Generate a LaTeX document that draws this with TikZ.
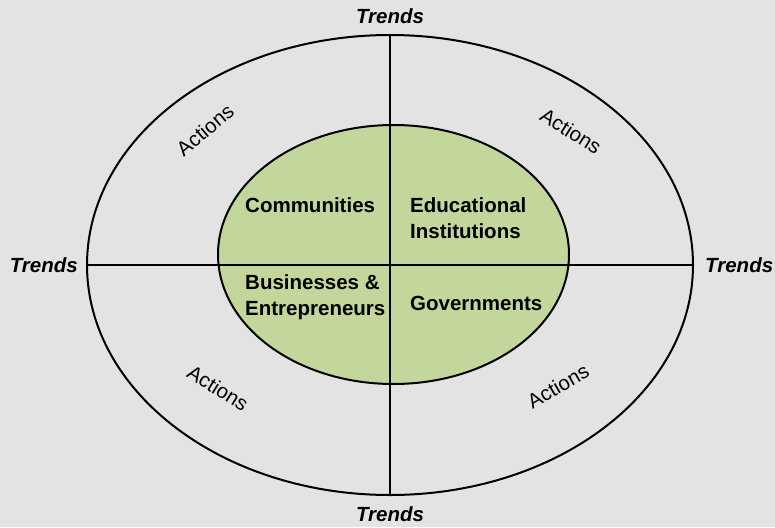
\documentclass[tikz,border=0pt]{standalone}
\usepackage{fontspec}
\setmainfont{Liberation Sans}
\usetikzlibrary{shapes.geometric,positioning}
\definecolor{bgGray}{HTML}{E3E3E3}
\definecolor{sectorGreen}{HTML}{C3D69B}

\begin{document}
\begin{tikzpicture}[x=1pt,y=-1pt,
  trend/.style={font=\fontsize{20.5}{24}\selectfont\bfseries\itshape,inner sep=0pt},
  action/.style={font=\fontsize{20.5}{24}\selectfont},
  sector/.style={font=\fontsize{20.5}{25.5}\selectfont\bfseries,align=left,anchor=west,inner sep=0pt}]
  \fill[bgGray] (0,0) rectangle (775,527);
  \useasboundingbox (0,0) rectangle (775,527);
  \node[draw,line width=2pt,ellipse,inner sep=0pt,minimum width=606pt,minimum height=460pt] (outer) at (390,265) {};
  \node[draw,line width=2pt,ellipse,inner sep=0pt,fill=sectorGreen,minimum width=351pt,minimum height=259pt] (inner) at (393.5,254.5) {};
  \draw[line width=2.5pt] (outer.north) -- (outer.south);
  \draw[line width=2.5pt] (outer.west) -- (outer.east);
  \node[trend,above=10pt of outer.north] (trendN) {Trends};
  \node[trend,below=10pt of outer.south] (trendS) {Trends};
  \node[trend,left=8pt of outer.west] (trendW) {Trends};
  \node[trend,right=11pt of outer.east] (trendE) {Trends};
  \node[action,rotate=40] (actNW) at (205,130) {Actions};
  \node[action,rotate=-32] (actNE) at (571,131) {Actions};
  \node[action,rotate=-32] (actSW) at (218,388) {Actions};
  \node[action,rotate=30] (actSE) at (558,386) {Actions};
  \node[sector] (communities) at (245,205) {Communities};
  \node[sector] (education) at (410,218) {Educational\\Institutions};
  \node[sector] (business) at (245,297) {Businesses \&\\Entrepreneurs};
  \node[sector] (government) at (410,303) {Governments};
\end{tikzpicture}
\end{document}
